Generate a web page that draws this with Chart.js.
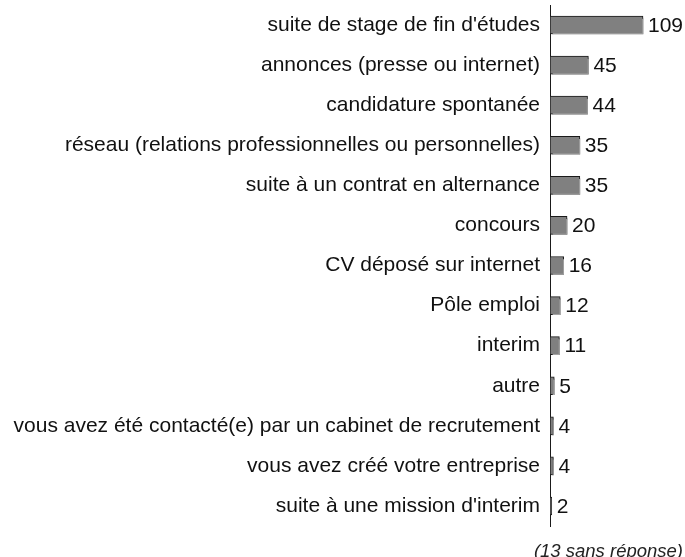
<!DOCTYPE html>
<html>
<head>
<meta charset="utf-8">
<script src="https://cdn.jsdelivr.net/npm/chart.js@4"></script>
<style>
html,body{margin:0;padding:0;background:#fff;}
#wrap{position:relative;width:685px;height:557px;}
</style>
</head>
<body>
<div id="wrap"><canvas id="c" width="685" height="557"></canvas></div>
<script>
const categories = [
  "suite de stage de fin d'études",
  "annonces (presse ou internet)",
  "candidature spontanée",
  "réseau (relations professionnelles ou personnelles)",
  "suite à un contrat en alternance",
  "concours",
  "CV déposé sur internet",
  "Pôle emploi",
  "interim",
  "autre",
  "vous avez été contacté(e) par un cabinet de recrutement",
  "vous avez créé votre entreprise",
  "suite à une mission d'interim"
];
const values = [109, 45, 44, 35, 35, 20, 16, 12, 11, 5, 4, 4, 2];
const footnote = "(13 sans réponse)";

const FONT = "'Liberation Sans', Arial, sans-serif";

const shadowPlugin = {
  id: 'barShadow',
  beforeDatasetsDraw(chart) {
    const ctx = chart.ctx;
    ctx.save();
    ctx.shadowColor = '#a3a3a3';
    ctx.shadowOffsetX = 2;
    ctx.shadowOffsetY = 2;
    ctx.shadowBlur = 0;
  },
  afterDatasetsDraw(chart) {
    chart.ctx.restore();
  }
};

const labelPlugin = {
  id: 'valueLabels',
  afterDraw(chart) {
    const ctx = chart.ctx;
    ctx.save();
    ctx.font = "21px " + FONT;
    ctx.fillStyle = '#111';
    ctx.textAlign = 'left';
    ctx.textBaseline = 'middle';
    const meta = chart.getDatasetMeta(0);
    meta.data.forEach((el, i) => {
      ctx.fillText(String(values[i]), el.x + 5, el.y + 1);
    });
    ctx.font = "italic 18.5px " + FONT;
    ctx.textAlign = 'right';
    ctx.textBaseline = 'alphabetic';
    ctx.fillStyle = '#222';
    ctx.fillText(footnote, 683, 557);
    ctx.restore();
  }
};

new Chart(document.getElementById('c'), {
  type: 'bar',
  data: {
    labels: categories,
    datasets: [{
      data: values,
      backgroundColor: '#808080',
      borderColor: '#1a1a1a',
      borderWidth: 1,
      borderSkipped: false,
      barThickness: 18
    }]
  },
  options: {
    indexAxis: 'y',
    responsive: false,
    animation: false,
    devicePixelRatio: 1,
    layout: { padding: { top: 5, bottom: 31, left: 0, right: 7 } },
    plugins: { legend: { display: false }, tooltip: { enabled: false } },
    scales: {
      x: { display: false, min: 0, max: 150 },
      y: {
        afterFit(scale) { scale.width = 550; scale.paddingTop = 0; scale.paddingBottom = 0; },
        grid: { display: false, drawTicks: false },
        border: { display: true, color: '#1a1a1a', width: 1 },
        ticks: {
          padding: 10,
          color: '#111',
          font: { family: FONT, size: 21 },
          autoSkip: false
        }
      }
    }
  },
  plugins: [shadowPlugin, labelPlugin]
});
</script>
</body>
</html>
